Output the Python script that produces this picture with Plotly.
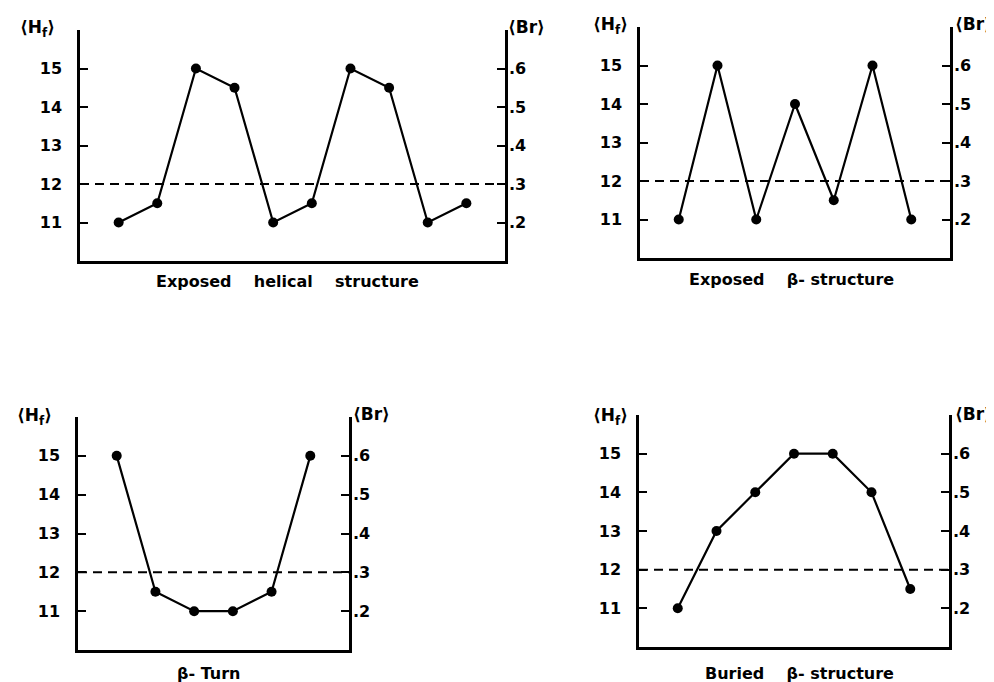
import plotly.graph_objects as go

W, H = 994, 682
OFF_X, OFF_Y = 6, 8  # page body margin offset

# ---- data ----
hf_ticks = [11, 12, 13, 14, 15]
hf_labels = ["11", "12", "13", "14", "15"]
br_ticks = [0.2, 0.3, 0.4, 0.5, 0.6]
br_labels = [".2", ".3", ".4", ".5", ".6"]
threshold_hf = 12

helical_exposed = [11, 11.5, 15, 14.5, 11, 11.5, 15, 14.5, 11, 11.5]
beta_exposed = [11, 15, 11, 14, 11.5, 15, 11]
beta_turn = [15, 11.5, 11, 11, 11.5, 15]
beta_buried = [11, 13, 14, 15, 15, 14, 11.5]

panel_series = [helical_exposed, beta_exposed, beta_turn, beta_buried]
panel_titles = ["Exposed    helical    structure", "Exposed    β- structure",
                "β- Turn", "Buried    β- structure"]

# ---- layout (pixel boxes in page coords: left, right, top, bottom) ----
boxes = [(78, 503, 30, 261), (638, 948, 27, 258), (76, 347, 417, 650), (637, 947, 415, 647)]
title_pos = [(285, 281), (789, 279), (207, 673), (797, 673)]
hf_pos = [(35, 29), (608, 26), (32, 416), (608, 416)]
br_pos = [(524, 27), (971, 24), (369, 414), (971, 414)]

FONT = "DejaVu Sans"
fig = go.Figure()
layout = dict(
    width=W, height=H, margin=dict(l=0, r=0, t=0, b=0, autoexpand=False),
    paper_bgcolor="white", plot_bgcolor="white", showlegend=False,
    shapes=[], annotations=[],
)

def px2x(px):
    return (px - OFF_X) / W

def py2y(py):
    return 1 - (py - OFF_Y) / H

for i, (series, box) in enumerate(zip(panel_series, boxes)):
    k = i + 1
    xa = f"x{k}" if k > 1 else "x"
    yl_idx = 2 * i + 1
    yr_idx = 2 * i + 2
    yl = f"y{yl_idx}" if yl_idx > 1 else "y"
    yr = f"y{yr_idx}"
    xs = list(range(1, len(series) + 1))
    fig.add_trace(go.Scatter(
        x=xs, y=series, xaxis=xa, yaxis=yl, mode="lines+markers",
        line=dict(color="black", width=2.2),
        marker=dict(color="black", size=10), hoverinfo="skip"))
    # invisible trace to register right axis
    fig.add_trace(go.Scatter(x=[xs[0]], y=[0.2], xaxis=xa, yaxis=yr, mode="markers",
                             marker=dict(opacity=0), hoverinfo="skip"))
    l, r, t, b = box
    xkey = "xaxis" if k == 1 else f"xaxis{k}"
    ylkey = "yaxis" if yl_idx == 1 else f"yaxis{yl_idx}"
    yrkey = f"yaxis{yr_idx}"
    layout[xkey] = dict(domain=[px2x(l), px2x(r)], range=[0, len(series) + 1],
                        anchor=yl, showline=True, linecolor="black", linewidth=2.5,
                        showticklabels=False, ticks="", showgrid=False, zeroline=False,
                        automargin=False)
    layout[ylkey] = dict(domain=[py2y(b), py2y(t)], range=[10, 16], anchor=xa,
                         showline=True, linecolor="black", linewidth=2.5,
                         tickvals=hf_ticks, ticktext=hf_labels, ticks="inside",
                         ticklen=8, tickwidth=2, tickcolor="black",
                         ticklabelstandoff=12, automargin=False,
                         tickfont=dict(family=FONT, size=16, color="black", weight="bold"),
                         showgrid=False, zeroline=False)
    layout[yrkey] = dict(range=[0.1, 0.7], anchor=xa, overlaying=yl, side="right",
                         showline=True, linecolor="black", linewidth=2.5,
                         tickvals=br_ticks, ticktext=br_labels, ticks="inside",
                         ticklen=8, tickwidth=2, tickcolor="black",
                         ticklabelstandoff=-2, automargin=False,
                         tickfont=dict(family=FONT, size=16, color="black", weight="bold"),
                         showgrid=False, zeroline=False)
    layout["shapes"].append(dict(type="line", xref=xa, yref=yl, x0=0, x1=len(series) + 1,
                                 y0=threshold_hf, y1=threshold_hf,
                                 line=dict(color="black", width=2, dash="9px,6px")))
    tx, ty = title_pos[i]
    layout["annotations"].append(dict(text=panel_titles[i], x=px2x(tx), y=py2y(ty),
                                      xref="paper", yref="paper", showarrow=False,
                                      xanchor="center", yanchor="middle",
                                      font=dict(family=FONT, size=16, color="black", weight="bold")))
    hx, hy = hf_pos[i]
    layout["annotations"].append(dict(text="⟨H<sub>f</sub>⟩", x=px2x(hx), y=py2y(hy),
                                      xref="paper", yref="paper", showarrow=False,
                                      xanchor="center", yanchor="middle",
                                      font=dict(family=FONT, size=17, color="black", weight="bold")))
    bx, by = br_pos[i]
    layout["annotations"].append(dict(text="⟨Br⟩", x=px2x(bx), y=py2y(by),
                                      xref="paper", yref="paper", showarrow=False,
                                      xanchor="center", yanchor="middle",
                                      font=dict(family=FONT, size=17, color="black", weight="bold")))

fig.update_layout(**layout)
fig.write_html("out.html")
